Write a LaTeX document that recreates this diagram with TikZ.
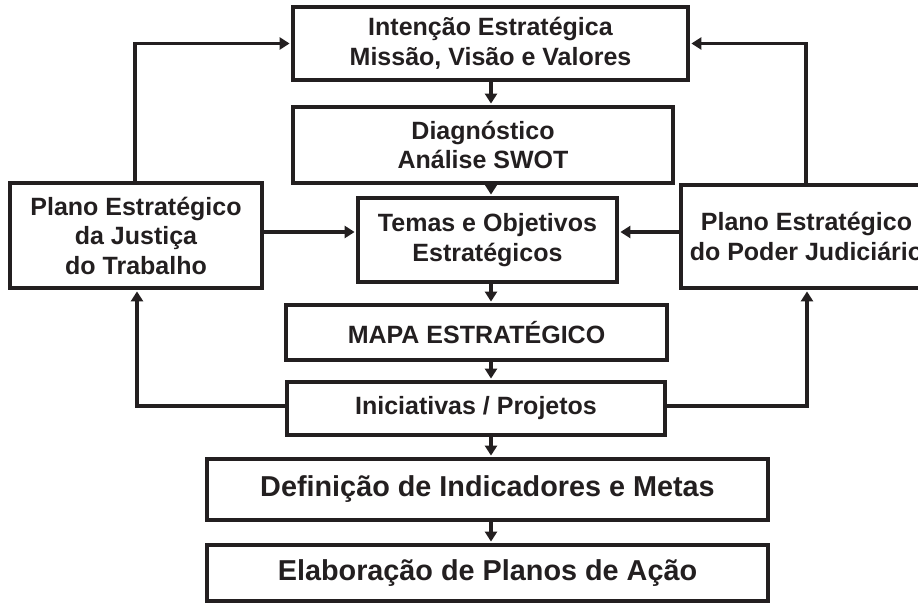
\documentclass[tikz,border=0pt]{standalone}
\usepackage{fontspec}
\setmainfont{Liberation Sans}
\usetikzlibrary{arrows.meta}
\definecolor{ink}{HTML}{231F20}
\begin{document}
\begin{tikzpicture}[x=1pt,y=-1pt,
  box/.style={draw=ink, line width=3.6pt, text=ink, font=\bfseries\fontsize{25}{29.5}\selectfont, align=center, inner sep=0pt},
  bigbox/.style={box, font=\bfseries\fontsize{28.8}{34}\selectfont},
  arr/.style={draw=ink, line width=3.2pt, shorten >=1.6pt, -{Triangle[length=10pt,width=12pt]}}]
\useasboundingbox (0,0) rectangle (918,604);
\clip (0,0) rectangle (918,604);
\node[box, minimum width=395pt, minimum height=73pt] (int) at (490.5,43.5) {Intenção Estratégica\\Missão, Visão e Valores};
\node[box, minimum width=380pt, minimum height=76pt] (diag) at (483,145) {Diagnóstico\\Análise SWOT};
\node[box, minimum width=259pt, minimum height=84pt] (tem) at (487.5,240) {Temas e Objetivos\\Estratégicos};
\node[box, minimum width=252pt, minimum height=105pt] (lp) at (136,235.5) {Plano Estratégico\\da Justiça\\do Trabalho};
\node[box, minimum width=251pt, minimum height=103pt] (rp) at (806.5,236.5) {Plano Estratégico\\do Poder Judiciário};
\node[box, minimum width=381pt, minimum height=55pt] (mapa) at (476.5,332.5) {MAPA ESTRATÉGICO};
\node[box, minimum width=378pt, minimum height=53pt] (ini) at (476,408.5) {Iniciativas / Projetos};
\node[bigbox, minimum width=561pt, minimum height=61pt] (def) at (487.5,489.5) {Definição de Indicadores e Metas};
\node[bigbox, minimum width=561pt, minimum height=56pt] (ela) at (487.5,573) {Elaboração de Planos de Ação};
\coordinate (ax) at (491,0);
\coordinate (lt) at (135,43.5);
\coordinate (rt) at (806,43.5);
\coordinate (hy) at (0,232);
\coordinate (lb) at (137,406);
\coordinate (rb) at (807,406);
\draw[arr] (int.south -| ax) -- (diag.north -| ax);
\draw[arr] (diag.south -| ax) -- (tem.north -| ax);
\draw[arr] (tem.south -| ax) -- (mapa.north -| ax);
\draw[arr] (mapa.south -| ax) -- (ini.north -| ax);
\draw[arr] (ini.south -| ax) -- (def.north -| ax);
\draw[arr] (def.south -| ax) -- (ela.north -| ax);
\draw[arr] (lp.north -| lt) -- (lt) -- (int.west);
\draw[arr] (rp.north -| rt) -- (rt) -- (int.east);
\draw[arr] (lp.east |- hy) -- (tem.west |- hy);
\draw[arr] (rp.west |- hy) -- (tem.east |- hy);
\draw[arr] (ini.west |- lb) -- (lb) -- (lb |- lp.south);
\draw[arr] (ini.east |- rb) -- (rb) -- (rb |- rp.south);
\end{tikzpicture}
\end{document}
